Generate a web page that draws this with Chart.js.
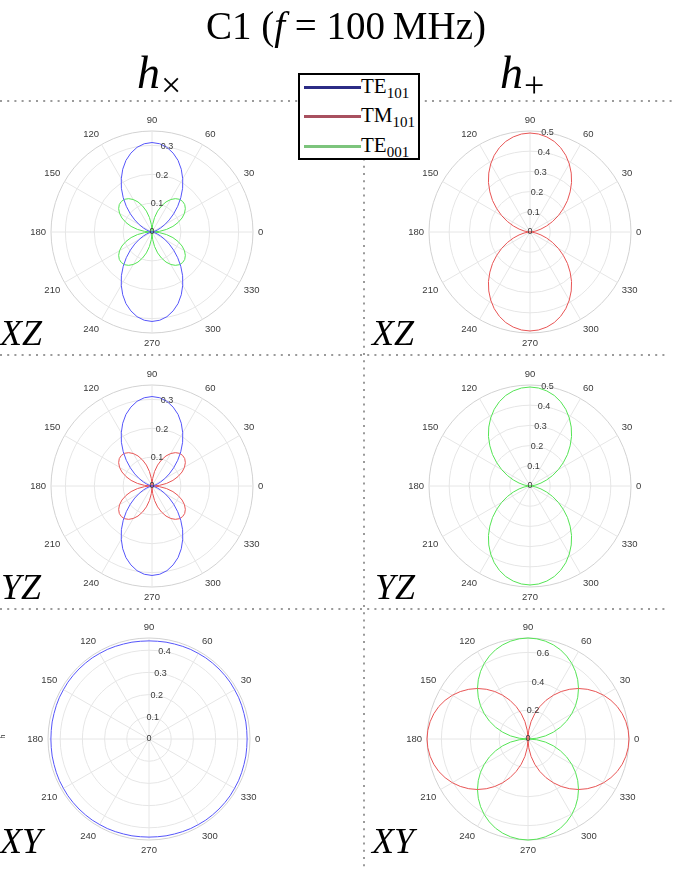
<!DOCTYPE html>
<html>
<head>
<meta charset="utf-8">
<script src="https://cdn.jsdelivr.net/npm/chart.js@4.4.1/dist/chart.umd.min.js"></script>
<style>
  html, body { margin:0; padding:0; background:#fff; }
  body { position:relative; width:674px; height:871px; overflow:hidden; font-family:"Liberation Serif","Times New Roman",serif; color:#000; }
  .abs { position:absolute; white-space:nowrap; }
  .pl { position:absolute; font-style:italic; font-size:36px; line-height:36px; white-space:nowrap; }
  .hd { position:absolute; font-style:italic; font-size:46px; line-height:46px; white-space:nowrap; }
  .hd .s { font-style:normal; font-size:36px; position:relative; top:9px; margin-left:1px; }
  #legend { position:absolute; left:298px; top:73px; width:118px; height:83px; border:2px solid #000; background:#fff; }
  .lline { position:absolute; left:4px; width:57px; height:3px; }
  .ltxt { position:absolute; left:61px; font-size:21px; line-height:21px; white-space:nowrap; }
  .ltxt .s { font-size:15px; position:relative; top:5px; }
  canvas.pc { position:absolute; }
</style>
</head>
<body>
<canvas id="bg" width="674" height="871" style="position:absolute;left:0;top:0"></canvas>

<div class="abs" style="left:0;width:692px;top:6px;text-align:center;font-size:39px;line-height:40px">C1 (<i>f</i> = 100&#8201;MHz)</div>
<div class="hd" style="left:137px;top:50px"><i>h</i><span class="s">×</span></div>
<div class="hd" style="left:500px;top:50px"><i>h</i><span class="s">+</span></div>

<div id="legend">
  <div class="lline" style="top:10.5px;background:#2b2b85"></div>
  <div class="ltxt" style="top:1px">TE<span class="s">101</span></div>
  <div class="lline" style="top:39.8px;background:#a8505f"></div>
  <div class="ltxt" style="top:30.3px">TM<span class="s">101</span></div>
  <div class="lline" style="top:69.8px;background:#7cc47c"></div>
  <div class="ltxt" style="top:60.3px">TE<span class="s">001</span></div>
</div>

<div class="pl" style="left:0px;top:315px">XZ</div>
<div class="pl" style="left:372px;top:315px">XZ</div>
<div class="pl" style="left:1px;top:569px">YZ</div>
<div class="pl" style="left:375px;top:569px">YZ</div>
<div class="pl" style="left:0px;top:823px">XY</div>
<div class="pl" style="left:372px;top:823px">XY</div>
<div class="abs" style="left:1px;top:733px;font:7px 'Liberation Sans',sans-serif;color:#333;transform:rotate(-90deg)">h</div>

<script>
// ---------- DATA ----------
const angles = [0,5,10,15,20,25,30,35,40,45,50,55,60,65,70,75,80,85,90,95,100,105,110,115,120,125,130,135,140,145,150,155,160,165,170,175,
                180,185,190,195,200,205,210,215,220,225,230,235,240,245,250,255,260,265,270,275,280,285,290,295,300,305,310,315,320,325,330,335,340,345,350,355];
const angleTickLabels = ['0','30','60','90','120','150','180','210','240','270','300','330'];

// h_x, XZ plane
const te101_hx_XZ = [0,0.001,0.003,0.009,0.019,0.033,0.051,0.073,0.098,0.126,0.155,0.185,0.213,0.240,0.264,0.283,0.298,0.307,0.310,0.307,0.298,0.283,0.264,0.240,0.213,0.185,0.155,0.126,0.098,0.073,0.051,0.033,0.019,0.009,0.003,0.001,
                     0,0.001,0.003,0.009,0.019,0.033,0.051,0.073,0.098,0.126,0.155,0.185,0.213,0.240,0.264,0.283,0.298,0.307,0.310,0.307,0.298,0.283,0.264,0.240,0.213,0.185,0.155,0.126,0.098,0.073,0.051,0.033,0.019,0.009,0.003,0.001];
const te001_hx_XZ = [0,0.026,0.051,0.075,0.096,0.115,0.130,0.141,0.148,0.150,0.148,0.141,0.130,0.115,0.096,0.075,0.051,0.026,
                     0,0.026,0.051,0.075,0.096,0.115,0.130,0.141,0.148,0.150,0.148,0.141,0.130,0.115,0.096,0.075,0.051,0.026,
                     0,0.026,0.051,0.075,0.096,0.115,0.130,0.141,0.148,0.150,0.148,0.141,0.130,0.115,0.096,0.075,0.051,0.026,
                     0,0.026,0.051,0.075,0.096,0.115,0.130,0.141,0.148,0.150,0.148,0.141,0.130,0.115,0.096,0.075,0.051,0.026];
// h_+, XZ plane
const tm101_hp_XZ = [0,0.010,0.030,0.056,0.088,0.124,0.162,0.201,0.242,0.281,0.320,0.356,0.389,0.419,0.444,0.464,0.478,0.487,0.490,0.487,0.478,0.464,0.444,0.419,0.389,0.356,0.320,0.281,0.242,0.201,0.162,0.124,0.088,0.056,0.030,0.010,
                     0,0.010,0.030,0.056,0.088,0.124,0.162,0.201,0.242,0.281,0.320,0.356,0.389,0.419,0.444,0.464,0.478,0.487,0.490,0.487,0.478,0.464,0.444,0.419,0.389,0.356,0.320,0.281,0.242,0.201,0.162,0.124,0.088,0.056,0.030,0.010];
// h_x, YZ plane
const te101_hx_YZ = [0,0.001,0.003,0.009,0.019,0.033,0.051,0.073,0.098,0.126,0.155,0.185,0.213,0.240,0.264,0.283,0.298,0.307,0.310,0.307,0.298,0.283,0.264,0.240,0.213,0.185,0.155,0.126,0.098,0.073,0.051,0.033,0.019,0.009,0.003,0.001,
                     0,0.001,0.003,0.009,0.019,0.033,0.051,0.073,0.098,0.126,0.155,0.185,0.213,0.240,0.264,0.283,0.298,0.307,0.310,0.307,0.298,0.283,0.264,0.240,0.213,0.185,0.155,0.126,0.098,0.073,0.051,0.033,0.019,0.009,0.003,0.001];
const tm101_hx_YZ = [0,0.026,0.051,0.075,0.096,0.115,0.130,0.141,0.148,0.150,0.148,0.141,0.130,0.115,0.096,0.075,0.051,0.026,
                     0,0.026,0.051,0.075,0.096,0.115,0.130,0.141,0.148,0.150,0.148,0.141,0.130,0.115,0.096,0.075,0.051,0.026,
                     0,0.026,0.051,0.075,0.096,0.115,0.130,0.141,0.148,0.150,0.148,0.141,0.130,0.115,0.096,0.075,0.051,0.026,
                     0,0.026,0.051,0.075,0.096,0.115,0.130,0.141,0.148,0.150,0.148,0.141,0.130,0.115,0.096,0.075,0.051,0.026];
// h_+, YZ plane
const te001_hp_YZ = [0,0.010,0.030,0.056,0.088,0.124,0.162,0.201,0.242,0.281,0.320,0.356,0.389,0.419,0.444,0.464,0.478,0.487,0.490,0.487,0.478,0.464,0.444,0.419,0.389,0.356,0.320,0.281,0.242,0.201,0.162,0.124,0.088,0.056,0.030,0.010,
                     0,0.010,0.030,0.056,0.088,0.124,0.162,0.201,0.242,0.281,0.320,0.356,0.389,0.419,0.444,0.464,0.478,0.487,0.490,0.487,0.478,0.464,0.444,0.419,0.389,0.356,0.320,0.281,0.242,0.201,0.162,0.124,0.088,0.056,0.030,0.010];
// h_x, XY plane
const te101_hx_XY = [0.442,0.442,0.443,0.443,0.444,0.445,0.445,0.446,0.446,0.446,0.446,0.446,0.445,0.445,0.444,0.443,0.443,0.442,
                     0.442,0.442,0.443,0.443,0.444,0.445,0.445,0.446,0.446,0.446,0.446,0.446,0.445,0.445,0.444,0.443,0.443,0.442,
                     0.442,0.442,0.443,0.443,0.444,0.445,0.445,0.446,0.446,0.446,0.446,0.446,0.445,0.445,0.444,0.443,0.443,0.442,
                     0.442,0.442,0.443,0.443,0.444,0.445,0.445,0.446,0.446,0.446,0.446,0.446,0.445,0.445,0.444,0.443,0.443,0.442];
// h_+, XY plane
const tm101_hp_XY = [0.700,0.697,0.689,0.676,0.658,0.634,0.606,0.573,0.536,0.495,0.450,0.402,0.350,0.296,0.239,0.181,0.122,0.061,0,0.061,0.122,0.181,0.239,0.296,0.350,0.402,0.450,0.495,0.536,0.573,0.606,0.634,0.658,0.676,0.689,0.697,
                     0.700,0.697,0.689,0.676,0.658,0.634,0.606,0.573,0.536,0.495,0.450,0.402,0.350,0.296,0.239,0.181,0.122,0.061,0,0.061,0.122,0.181,0.239,0.296,0.350,0.402,0.450,0.495,0.536,0.573,0.606,0.634,0.658,0.676,0.689,0.697];
const te001_hp_XY = [0,0.061,0.122,0.181,0.239,0.296,0.350,0.402,0.450,0.495,0.536,0.573,0.606,0.634,0.658,0.676,0.689,0.697,0.700,0.697,0.689,0.676,0.658,0.634,0.606,0.573,0.536,0.495,0.450,0.402,0.350,0.296,0.239,0.181,0.122,0.061,
                     0,0.061,0.122,0.181,0.239,0.296,0.350,0.402,0.450,0.495,0.536,0.573,0.606,0.634,0.658,0.676,0.689,0.697,0.700,0.697,0.689,0.676,0.658,0.634,0.606,0.573,0.536,0.495,0.450,0.402,0.350,0.296,0.239,0.181,0.122,0.061];

// radial rings (grid) and radial tick labels per panel
const rGrid_hx_XZ = [0,0.1,0.2,0.3,0.35];   const rTicks_hx_XZ = [0,0.1,0.2,0.3];
const rGrid_hp_XZ = [0,0.1,0.2,0.3,0.4,0.5]; const rTicks_hp_XZ = [0,0.1,0.2,0.3,0.4,0.5];
const rGrid_hx_YZ = [0,0.1,0.2,0.3,0.35];   const rTicks_hx_YZ = [0,0.1,0.2,0.3];
const rGrid_hp_YZ = [0,0.1,0.2,0.3,0.4,0.5]; const rTicks_hp_YZ = [0,0.1,0.2,0.3,0.4,0.5];
const rGrid_hx_XY = [0,0.1,0.2,0.3,0.4,0.455]; const rTicks_hx_XY = [0,0.1,0.2,0.3,0.4];
const rGrid_hp_XY = [0,0.2,0.4,0.6,0.7];    const rTicks_hp_XY = [0,0.2,0.4,0.6];

// ---------- STYLE ----------
const BLUE = 'rgb(85,85,250)', RED = 'rgb(232,85,85)', GREEN = 'rgb(85,228,85)';
const R = 101;          // plot radius in px
const CW = 280, CH = 250;

// decorations: dotted separators
(function(){
  const c = document.getElementById('bg').getContext('2d');
  c.strokeStyle = '#9a9a9a'; c.lineWidth = 2; c.setLineDash([2, 5.2]);
  const seg = (x1,y1,x2,y2) => { c.beginPath(); c.moveTo(x1,y1); c.lineTo(x2,y2); c.stroke(); };
  seg(0,101,674,101); seg(0,355,668,355); seg(0,609,668,609); seg(364,101,364,871);
})();

// clockwise ordering starting at 90 deg (top), so that angles grow counter-clockwise
const N = angles.length;
const TOP = angles.indexOf(90);
const cwIndex = j => (TOP - j + N) % N;
const cwAngles = angles.map((_, j) => angles[cwIndex(j)]);
const cw = s => s.map((_, j) => s[cwIndex(j)]);

const polarText = {
  id: 'polarText',
  afterDatasetsDraw(chart, args, opts) {
    const s = chart.scales.r, ctx = chart.ctx;
    ctx.save();
    ctx.fillStyle = '#3a3a3a';
    const fs = 9.5, h = fs * 1.2;
    ctx.font = fs + 'px "Liberation Sans", Arial, sans-serif';
    ctx.textBaseline = 'middle';
    chart.data.labels.forEach((lab, i) => {
      if (!angleTickLabels.includes(lab)) return;
      const p = s.getPointPosition(i, s.drawingArea + 5);
      const deg = Math.round(s.getIndexAngle(i) * 180 / Math.PI) % 360;
      ctx.textAlign = (deg === 0 || deg === 180) ? 'center' : (deg < 180 ? 'left' : 'right');
      let top;
      if (deg === 90 || deg === 270) top = p.y - h / 2;
      else if (deg > 270 || deg < 90) top = p.y - h;
      else top = p.y;
      ctx.fillText(lab, p.x, top + h / 2);
    });
    ctx.font = '9px "Liberation Sans", Arial, sans-serif';
    ctx.textAlign = 'center';
    const i80 = chart.data.labels.indexOf('80');
    opts.ticks.forEach(v => {
      const p = s.getPointPosition(i80, s.getDistanceFromCenterForValue(v));
      ctx.fillText(String(v), p.x, p.y);
    });
    ctx.restore();
  }
};

const panels = [
  { cx:152, cy:232, grid:rGrid_hx_XZ, ticks:rTicks_hx_XZ, sets:[[te101_hx_XZ, BLUE, 'TE101'], [te001_hx_XZ, GREEN, 'TE001']] },
  { cx:530, cy:232, grid:rGrid_hp_XZ, ticks:rTicks_hp_XZ, sets:[[tm101_hp_XZ, RED, 'TM101']] },
  { cx:152, cy:486, grid:rGrid_hx_YZ, ticks:rTicks_hx_YZ, sets:[[te101_hx_YZ, BLUE, 'TE101'], [tm101_hx_YZ, RED, 'TM101']] },
  { cx:530, cy:486, grid:rGrid_hp_YZ, ticks:rTicks_hp_YZ, sets:[[te001_hp_YZ, GREEN, 'TE001']] },
  { cx:149, cy:739, grid:rGrid_hx_XY, ticks:rTicks_hx_XY, sets:[[te101_hx_XY, BLUE, 'TE101']] },
  { cx:528, cy:739, grid:rGrid_hp_XY, ticks:rTicks_hp_XY, sets:[[tm101_hp_XY, RED, 'TM101'], [te001_hp_XY, GREEN, 'TE001']] }
];

panels.forEach(p => {
  const cv = document.createElement('canvas');
  cv.className = 'pc';
  cv.width = CW; cv.height = CH;
  cv.style.left = (p.cx - CW / 2) + 'px';
  cv.style.top = (p.cy - CH / 2) + 'px';
  document.body.appendChild(cv);
  const last = p.grid.length - 1;
  new Chart(cv, {
    type: 'radar',
    data: {
      labels: cwAngles.map(String),
      datasets: p.sets.map(([s, c, name]) => ({
        label: name, data: cw(s), borderColor: c, borderWidth: 1,
        pointRadius: 0, pointHoverRadius: 0, fill: false, tension: 0
      }))
    },
    options: {
      responsive: false, animation: false, events: [], devicePixelRatio: 1,
      layout: { padding: { left: CW/2 - R, right: CW/2 - R, top: CH/2 - R, bottom: CH/2 - R } },
      plugins: { legend: { display: false }, tooltip: { enabled: false }, polarText: { ticks: p.ticks } },
      scales: {
        r: {
          min: 0, max: p.grid[last], startAngle: 0,
          afterBuildTicks: sc => { sc.ticks = p.grid.map(v => ({ value: v })); },
          ticks: { display: false },
          pointLabels: { display: false },
          grid: { circular: true, lineWidth: 1, color: c => c.index === last ? '#d2d2d2' : '#e6e6e6' },
          angleLines: { display: true, color: '#e6e6e6',
            lineWidth: c => angleTickLabels.includes(String(cwAngles[c.index])) ? 1 : 0 }
        }
      }
    },
    plugins: [polarText]
  });
});
</script>
</body>
</html>
